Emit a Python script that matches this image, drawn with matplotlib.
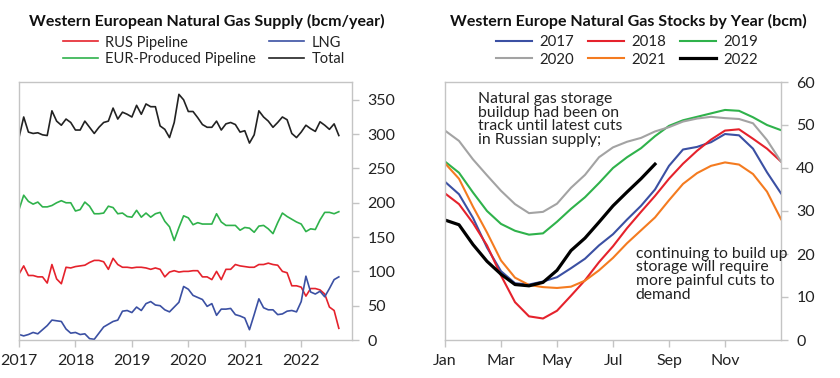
import matplotlib
matplotlib.use("Agg")
import matplotlib.pyplot as plt
import numpy as np

plt.rcParams['font.family'] = ['Lato', 'DejaVu Sans']

# ---- left panel: monthly supply, Jan 2017 - Sep 2022 (bcm/year)
rus = [96, 108, 94, 94, 92, 92, 83, 110, 89, 82, 106, 105,
       107, 108, 109, 113, 116, 116, 114, 103, 119, 110, 106, 106,
       105, 106, 106, 105, 103, 105, 103, 92, 99, 101, 99, 100,
       100, 101, 101, 92, 92, 88, 100, 88, 103, 103, 110, 108,
       107, 106, 106, 110, 110, 112, 110, 109, 100, 98, 79, 79,
       77, 64, 75, 75, 73, 67, 48, 43, 17]
lng = [8, 6, 8, 11, 9, 15, 21, 29, 28, 27, 16, 10,
       11, 8, 9, 2, 1, 10, 19, 23, 27, 29, 42, 43,
       40, 48, 43, 53, 56, 51, 50, 44, 41, 48, 55, 78,
       74, 65, 62, 59, 49, 53, 36, 45, 45, 46, 37, 35,
       32, 15, 37, 60, 47, 44, 44, 37, 38, 42, 43, 41,
       56, 93, 70, 67, 71, 63, 75, 88, 92]
eur = [190, 211, 202, 198, 201, 194, 194, 196, 200, 203, 200, 200,
       188, 190, 201, 195, 184, 184, 185, 195, 193, 184, 185, 180,
       179, 189, 179, 185, 179, 184, 186, 173, 165, 145, 164, 181,
       178, 168, 171, 169, 169, 169, 184, 172, 167, 167, 167, 160,
       164, 163, 157, 166, 167, 162, 155, 171, 185, 180, 176, 172,
       169, 158, 162, 161, 175, 186, 186, 184, 187]
total = [295, 325, 303, 301, 302, 299, 298, 334, 319, 313, 322, 317,
         306, 306, 319, 310, 301, 310, 317, 319, 338, 322, 332, 329,
         325, 342, 329, 344, 340, 340, 312, 307, 295, 317, 358, 350,
         333, 333, 324, 314, 310, 310, 319, 306, 315, 317, 314, 303,
         305, 287, 299, 334, 325, 319, 310, 317, 325, 321, 301, 295,
         303, 313, 308, 304, 318, 313, 307, 315, 298]
years = 2017 + np.arange(len(rus)) / 12

# ---- right panel: stocks by year (bcm), every half month
half_month = np.arange(25) * 0.5
s2017 = [36.8, 33.9, 28.4, 21.5, 16.0, 13.2, 12.9, 13.6, 14.6, 16.7, 18.9, 22.0, 24.6,
         28.0, 31.2, 35.0, 40.5, 44.3, 44.9, 46.0, 47.9, 47.6, 44.5, 39.0, 34.1]
s2018 = [34.1, 31.6, 27.2, 22.0, 15.0, 8.8, 5.5, 5.0, 6.8, 10.3, 13.9, 18.1, 21.8,
         26.0, 29.8, 33.5, 37.5, 41.0, 44.0, 46.6, 48.7, 49.0, 46.8, 44.5, 41.5]
s2019 = [41.5, 38.9, 34.3, 30.0, 27.0, 25.4, 24.5, 24.8, 27.5, 30.5, 33.2, 36.5, 40.0,
         42.5, 44.6, 47.4, 49.8, 51.1, 51.9, 52.7, 53.5, 53.3, 51.8, 50.0, 48.8]
s2020 = [48.7, 46.3, 42.0, 38.3, 34.7, 31.6, 29.5, 29.8, 31.7, 35.4, 38.4, 42.5, 44.8,
         46.1, 47.0, 48.5, 49.5, 50.8, 51.5, 51.9, 51.6, 51.4, 50.4, 46.5, 41.5]
s2021 = [41.1, 37.5, 31.0, 25.0, 18.5, 14.5, 12.8, 12.3, 12.1, 12.4, 13.8, 16.2, 19.1,
         22.5, 25.5, 28.5, 32.5, 36.3, 38.8, 40.5, 41.3, 40.8, 38.6, 34.5, 28.1]
s2022 = [27.9, 26.8, 22.2, 18.3, 15.3, 12.9, 12.6, 13.4, 16.2, 20.8, 23.7, 27.4, 31.2,
         34.4, 37.5, 40.9]

RED = '#e5222c'
BLUE = '#3b50a3'
GREEN = '#2fb24b'
GRAY = '#a3a3a3'
ORANGE = '#f47b20'
SPINE = '#c4c4c4'
TXT = '#222222'

fig = plt.figure(figsize=(8.4, 3.78), dpi=100)
ax1 = fig.add_axes([19/840, 1-340/378, (352-19)/840, (340-82)/378])
ax2 = fig.add_axes([445/840, 1-340/378, (781-445)/840, (340-82)/378])


def style(ax):
    for s in ax.spines.values():
        s.set_color(SPINE)
        s.set_linewidth(1.0)
    ax.yaxis.tick_right()
    ax.tick_params(axis='both', colors=SPINE, labelcolor=TXT, labelsize=11.5,
                   length=5, width=1.0, direction='out')
    ax.tick_params(axis='x', pad=5)
    ax.tick_params(axis='y', pad=6)


l_rus, = ax1.plot(years, rus, color=RED, lw=1.2, label='RUS Pipeline')
l_lng, = ax1.plot(years, lng, color=BLUE, lw=1.2, label='LNG')
l_eur, = ax1.plot(years, eur, color=GREEN, lw=1.2, label='EUR-Produced Pipeline')
l_tot, = ax1.plot(years, total, color='#222222', lw=1.2, label='Total')
ax1.set_xlim(2017, 2022.9)
ax1.set_ylim(0, 376)
ax1.set_xticks(range(2017, 2023))
ax1.set_yticks(range(0, 351, 50))
style(ax1)

fig.text(207/840, 1-21/378, 'Western European Natural Gas Supply (bcm/year)',
         ha='center', va='center', fontsize=11.5, fontweight='bold', color='#111111')
fig.legend([l_rus, l_eur, l_lng, l_tot],
           ['RUS Pipeline', 'EUR-Produced Pipeline', 'LNG', 'Total'],
           ncol=2, loc='center', bbox_to_anchor=(204/840, 1-51/378), frameon=False,
           fontsize=10.5, handlelength=2.4, columnspacing=0.9, labelspacing=0.2,
           handletextpad=0.5, labelcolor=TXT)

series = [(s2017, BLUE, '2017'), (s2018, RED, '2018'), (s2019, GREEN, '2019'),
          (s2020, GRAY, '2020'), (s2021, ORANGE, '2021')]
handles = {}
for vals, col, lab in series:
    handles[lab], = ax2.plot(half_month, vals, color=col, lw=1.5, label=lab)
handles['2022'], = ax2.plot(half_month[:len(s2022)], s2022, color='black', lw=2.3, label='2022')
ax2.set_xlim(0, 12)
ax2.set_ylim(0, 60)
ax2.set_xticks([0, 2, 4, 6, 8, 10])
ax2.set_xticklabels(['Jan', 'Mar', 'May', 'Jul', 'Sep', 'Nov'])
ax2.set_yticks(range(0, 61, 10))
style(ax2)

ax2.text(1.18, 57.7, 'Natural gas storage\nbuildup had been on\ntrack until latest cuts\nin Russian supply;',
         ha='left', va='top', fontsize=11.3, color=TXT, linespacing=0.98)
ax2.text(6.81, 21.7, 'continuing to build up\nstorage will require\nmore painful cuts to\ndemand',
         ha='left', va='top', fontsize=11.3, color=TXT, linespacing=0.98)

fig.text(628/840, 1-21/378, 'Western Europe Natural Gas Stocks by Year (bcm)',
         ha='center', va='center', fontsize=11.5, fontweight='bold', color='#111111')
order = ['2017', '2020', '2018', '2021', '2019', '2022']
fig.legend([handles[k] for k in order], order,
           ncol=3, loc='center', bbox_to_anchor=(627/840, 1-51/378), frameon=False,
           fontsize=10.8, handlelength=2.4, columnspacing=0.9, labelspacing=0.2,
           handletextpad=0.5, labelcolor=TXT)

fig.savefig('out.png', dpi=100)
